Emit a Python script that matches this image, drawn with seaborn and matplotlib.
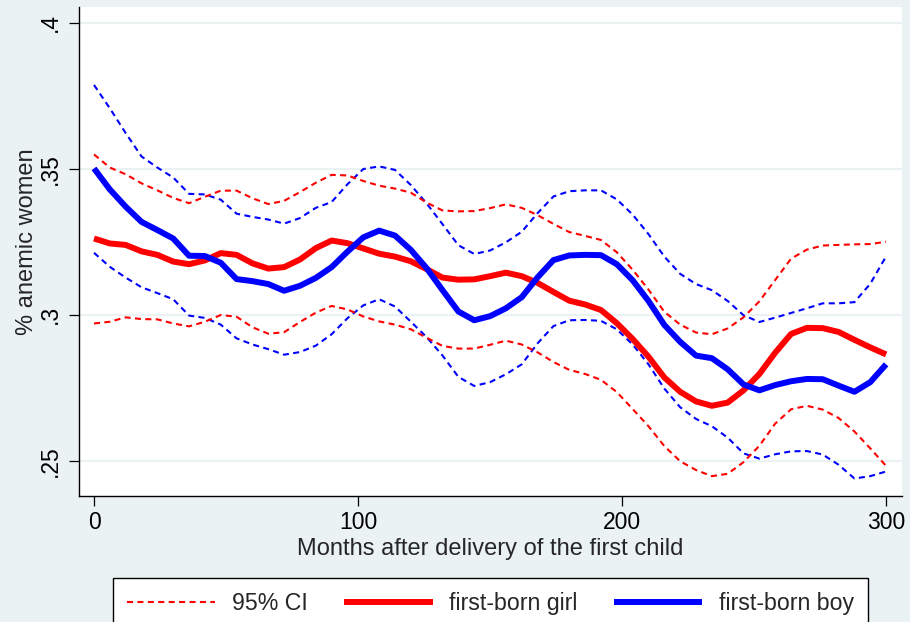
import numpy as np
import pandas as pd
import matplotlib
matplotlib.use("Agg")
import matplotlib.pyplot as plt
import seaborn as sns

months = [0, 6, 12, 18, 24, 30, 36, 42, 48, 54, 60, 66, 72, 78, 84, 90, 96, 102,
          108, 114, 120, 126, 132, 138, 144, 150, 156, 162, 168, 174, 180, 186,
          192, 198, 204, 210, 216, 222, 228, 234, 240, 246, 252, 258, 264, 270,
          276, 282, 288, 294, 300]

girl = [.3261, .3244, .3239, .3217, .3205, .3182, .3173, .3186, .3211, .3205, .3176, .3158, .3163,
        .3189, .3228, .3254, .3245, .3227, .3209, .3199, .3183, .3156, .3127, .3120, .3121, .3132, .3144,
        .3132, .3109, .3078, .3048, .3035, .3016, .2971, .2917, .2856, .2785, .2736, .2703, .2688,
        .2699, .2741, .2797, .2870, .2934, .2955, .2954, .2941, .2914, .2888, .2864]
girl_hi = [.3549, .3504, .3481, .3450, .3426, .3400, .3382, .3404, .3425, .3425, .3399, .3379, .3390,
           .3420, .3452, .3479, .3477, .3458, .3442, .3432, .3418, .3384, .3357, .3354, .3355, .3365, .3378,
           .3366, .3341, .3311, .3283, .3270, .3256, .3214, .3154, .3086, .3010, .2966, .2939, .2933,
           .2953, .2991, .3046, .3119, .3192, .3223, .3237, .3239, .3241, .3242, .3250]
girl_lo = [.2970, .2976, .2991, .2985, .2984, .2970, .2960, .2976, .2999, .2993, .2957, .2935, .2940,
           .2975, .3007, .3030, .3018, .2994, .2977, .2966, .2950, .2921, .2893, .2884, .2884, .2897, .2911,
           .2898, .2871, .2838, .2811, .2797, .2777, .2735, .2677, .2618, .2550, .2498, .2468, .2447,
           .2455, .2495, .2551, .2627, .2676, .2688, .2675, .2646, .2600, .2542, .2482]

boy = [.3501, .3429, .3370, .3318, .3290, .3261, .3202, .3201, .3178, .3122, .3115, .3105, .3082,
       .3099, .3126, .3163, .3216, .3265, .3288, .3271, .3222, .3159, .3084, .3011, .2981, .2995, .3022,
       .3060, .3128, .3187, .3203, .3205, .3204, .3173, .3118, .3047, .2965, .2907, .2860, .2851,
       .2813, .2761, .2741, .2759, .2772, .2780, .2779, .2757, .2736, .2769, .2830]
boy_hi = [.3787, .3707, .3622, .3542, .3504, .3470, .3414, .3412, .3394, .3346, .3335, .3326, .3312,
          .3331, .3366, .3386, .3447, .3499, .3508, .3496, .3444, .3381, .3310, .3238, .3208, .3220, .3248,
          .3284, .3348, .3405, .3423, .3426, .3426, .3395, .3343, .3276, .3199, .3140, .3105, .3084,
          .3047, .2998, .2975, .2990, .3006, .3022, .3039, .3039, .3043, .3106, .3200]
boy_lo = [.3212, .3164, .3127, .3094, .3074, .3053, .2997, .2989, .2966, .2919, .2898, .2882, .2863,
          .2872, .2894, .2933, .2988, .3032, .3053, .3028, .2976, .2923, .2860, .2787, .2756, .2769, .2796,
          .2830, .2902, .2961, .2981, .2982, .2979, .2950, .2898, .2830, .2747, .2683, .2643, .2618,
          .2579, .2525, .2507, .2522, .2532, .2533, .2521, .2486, .2439, .2447, .2463]

x_ticks = [0, 100, 200, 300]
y_ticks = [.25, .3, .35, .4]
y_tick_labels = [".25", ".3", ".35", ".4"]
legend_labels = ["95% CI", "first-born girl", "first-born boy"]

sns.set_style("white")
plt.rcParams["font.family"] = ["Liberation Sans", "DejaVu Sans"]

BG = "#EAF2F3"
RED = "#FF0000"
BLUE = "#0000FF"

fig = plt.figure(figsize=(9.10, 6.22), dpi=100, facecolor=BG)
ax = fig.add_axes([79.3 / 910, 126 / 622, 822.4 / 910, 489 / 622])
ax.set_facecolor("white")

dash = (2.9, 2.1)
ci_lines = []
for vals in (boy_hi, boy_lo):
    sns.lineplot(x=months, y=vals, ax=ax, color=BLUE, lw=1.5, legend=False)
    ax.lines[-1].set_dashes(dash)
for vals in (girl_hi, girl_lo):
    sns.lineplot(x=months, y=vals, ax=ax, color=RED, lw=1.5, legend=False)
    ax.lines[-1].set_dashes(dash)
    ci_lines.append(ax.lines[-1])
sns.lineplot(x=months, y=girl, ax=ax, color=RED, lw=4.3, legend=False)
girl_line = ax.lines[-1]
sns.lineplot(x=months, y=boy, ax=ax, color=BLUE, lw=4.3, legend=False)
boy_line = ax.lines[-1]
for ln in ax.lines:
    ln.set_solid_capstyle("butt")

ax.set_xlim(-5.57, 305.9)
ax.set_ylim(0.2379, 0.4054)
ax.set_xticks(x_ticks)
ax.set_xticklabels([str(t) for t in x_ticks])
ax.set_yticks(y_ticks)
ax.set_yticklabels(y_tick_labels)

ax.yaxis.grid(True, color=BG, lw=1.6)
ax.xaxis.grid(False)
ax.set_axisbelow(True)

for s in ("top", "right"):
    ax.spines[s].set_visible(False)
for s in ("left", "bottom"):
    ax.spines[s].set_color("black")
    ax.spines[s].set_linewidth(1.0)

ax.tick_params(axis="both", direction="out", length=7.2, width=0.9, color="black",
               labelsize=16.5, labelcolor="black")
ax.tick_params(axis="y", pad=5.5, labelrotation=90, left=True)
ax.tick_params(axis="x", pad=3.5, bottom=True)
for lbl in ax.get_yticklabels():
    lbl.set_va("center")

ax.set_xlabel("Months after delivery of the first child", fontsize=17, va="center")
ax.xaxis.set_label_coords(0.5, (496 - 549) / 489)
ax.set_ylabel("% anemic women", fontsize=17, va="center", ha="center")
ax.yaxis.set_label_coords((27 - 79.3) / 822.4, 0.521)

leg = ax.legend([ci_lines[0], girl_line, boy_line], legend_labels,
                loc="upper center", bbox_to_anchor=(490.5 / 910, 1 - 578 / 622),
                bbox_transform=fig.transFigure, ncol=3, fontsize=16.7,
                frameon=True, fancybox=False, edgecolor="black", facecolor="white",
                framealpha=1, handlelength=3.8, handletextpad=0.7, columnspacing=1.6,
                borderpad=0.6, borderaxespad=0)
leg.get_frame().set_linewidth(1.0)

fig.savefig("out.png", dpi=100, facecolor=BG)
